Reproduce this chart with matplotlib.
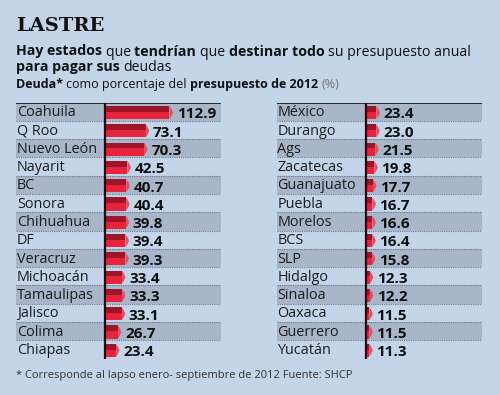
import matplotlib
matplotlib.use("Agg")
import matplotlib.pyplot as plt
from matplotlib.patches import Polygon, Rectangle

left_states = ["Coahuila", "Q Roo", "Nuevo León", "Nayarit", "BC", "Sonora", "Chihuahua",
               "DF", "Veracruz", "Michoacán", "Tamaulipas", "Jalisco", "Colima", "Chiapas"]
left_values = [112.9, 73.1, 70.3, 42.5, 40.7, 40.4, 39.8, 39.4, 39.3, 33.4, 33.3, 33.1, 26.7, 23.4]
right_states = ["México", "Durango", "Ags", "Zacatecas", "Guanajuato", "Puebla", "Morelos",
                "BCS", "SLP", "Hidalgo", "Sinaloa", "Oaxaca", "Guerrero", "Yucatán"]
right_values = [23.4, 23.0, 21.5, 19.8, 17.7, 16.7, 16.6, 16.4, 15.8, 12.3, 12.2, 11.5, 11.5, 11.3]

title = "LASTRE"
subtitle1 = [("Hay estados ", "bold"), ("que ", "normal"), ("tendrían ", "bold"), ("que ", "normal"),
             ("destinar todo ", "bold"), ("su presupuesto anual", "normal")]
subtitle2 = [("para pagar sus ", "bold"), ("deudas", "normal")]
subtitle3 = [("Deuda* ", "bold"), ("como porcentaje del ", "normal"), ("presupuesto de 2012 ", "bold"), ("(%)", "light")]
footnote = "* Corresponde al lapso enero- septiembre de 2012 Fuente: SHCP"

BG = "#c4d4e9"
STRIPE = "#a9b5c9"
DARK = "#9e1428"
LIGHT = "#e8243c"
TIP = "#f24a5c"
FONT = "Open Sans"

W, H = 500, 395
fig = plt.figure(figsize=(W / 100, H / 100), dpi=100, facecolor=BG)

XMIN, XMAX = -149.5, 193.8


def panel(x0px, states, values):
    top, bottom = 102.5, 358.5
    ax = fig.add_axes([x0px / W, (H - bottom) / H, 205.5 / W, (bottom - top) / H])
    ax.set_facecolor(BG)
    ax.set_xlim(XMIN, XMAX)
    n = len(states)
    ax.set_ylim(n - 0.5, -0.5)
    ax.axis("off")
    for i, (s, v) in enumerate(zip(states, values)):
        if i % 2 == 0:
            ax.add_patch(Rectangle((XMIN, i - 0.5), XMAX - XMIN, 1, facecolor=STRIPE,
                                   edgecolor="none", zorder=0))
        ax.plot([XMIN, XMAX], [i + 0.5, i + 0.5], color="#6f7888", lw=0.8,
                ls=(0, (1, 1)), zorder=1)
        c = i + 0.05
        h = 0.72
        tip = 6.0
        body = max(v - tip, 0)
        ax.add_patch(Rectangle((0, c - h / 2), body, h, facecolor=LIGHT, edgecolor="none", zorder=2))
        ax.add_patch(Rectangle((0, c - h / 2), body, h * 0.45, facecolor=DARK, edgecolor="none", zorder=3))
        ax.add_patch(Polygon([(body, c - h / 2), (body + tip * 0.6, c - h / 4), (v, c),
                              (body + tip * 0.6, c + h / 4), (body, c + h / 2)],
                             closed=True, facecolor=TIP, edgecolor="none", zorder=3))
        ax.text(v + 6, c + 0.1, f"{v:.1f}", ha="left", va="center", fontsize=11,
                fontweight="bold", family=FONT, color="#111111", zorder=4)
        ax.text(XMIN + 1.5, i + 0.06, s, ha="left", va="center", fontsize=10.4,
                family=FONT, color="#1c1c1c", zorder=4)
    ax.plot([XMIN, XMAX], [-0.5, -0.5], color="#2a2a2a", lw=1.4, zorder=5)
    ax.plot([0, 0], [-0.5, n - 0.5], color="#1e0c10", lw=1.6, zorder=5)
    return ax


panel(16, left_states, left_values)
panel(276.5, right_states, right_values)

fig.text(16 / W, 1 - 31 / H, title, family="DejaVu Serif", fontweight="bold",
         fontsize=14, color="#111111", va="baseline", ha="left")

renderer = fig.canvas.get_renderer()


def rich(pieces, xpx, basepx, size):
    x = xpx / W
    for txt, w in pieces:
        color = "#111111"
        weight = w
        if w == "light":
            weight = "normal"
            color = "#777777"
        t = fig.text(x, 1 - basepx / H, txt, family=FONT, fontweight=weight, fontsize=size,
                     color=color, va="baseline", ha="left")
        bb = t.get_window_extent(renderer=renderer)
        x += bb.width / W


rich(subtitle1, 16, 55.5, 10.2)
rich(subtitle2, 16, 71.0, 10.2)
rich(subtitle3, 16, 88.0, 9.0)

fig.text(16 / W, 1 - 378 / H, footnote, family=FONT, fontsize=8.0, color="#333333",
         va="baseline", ha="left")

fig.savefig("out.png", dpi=100, facecolor=BG)
